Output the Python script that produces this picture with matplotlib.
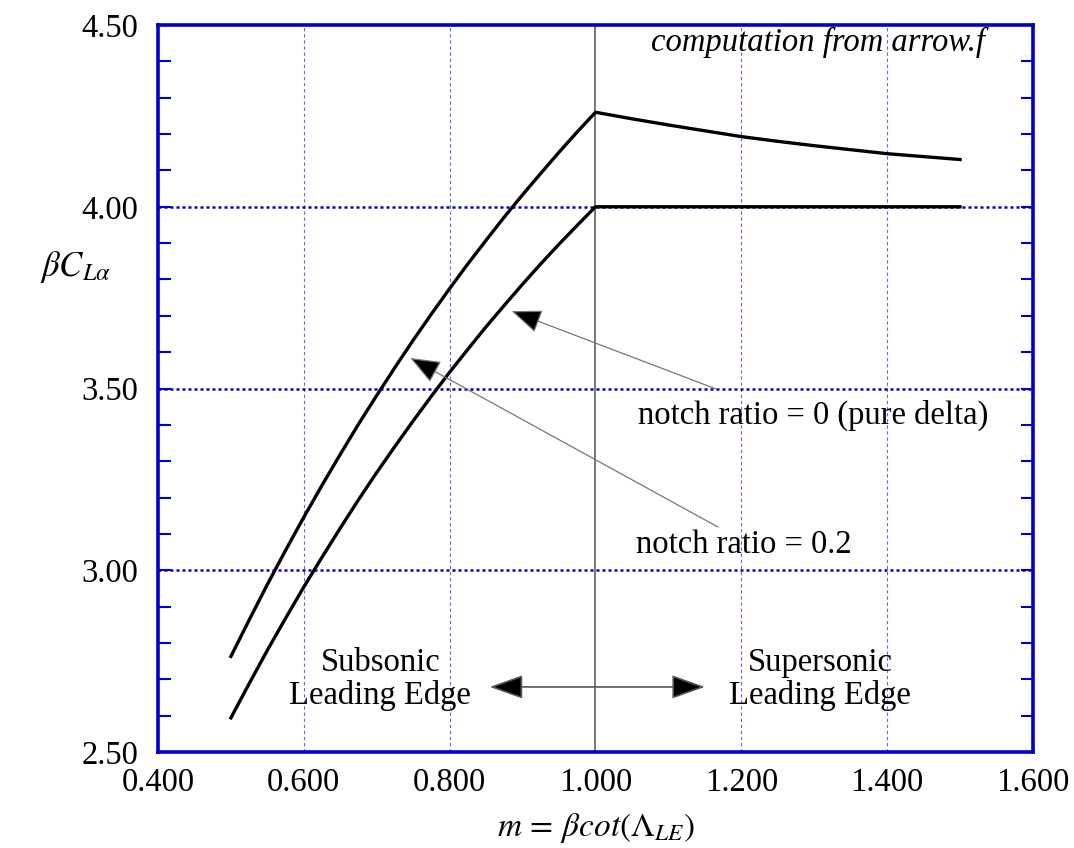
import matplotlib
matplotlib.use("Agg")
import matplotlib.pyplot as plt
from matplotlib.ticker import MultipleLocator, FixedLocator

plt.rcParams['font.family'] = ['Liberation Serif', 'DejaVu Serif']
plt.rcParams['mathtext.fontset'] = 'stix'

# Lift-curve slope vs. leading-edge parameter m (subsonic leading edge)
m_sub = [0.500, 0.525, 0.550, 0.575, 0.600, 0.625, 0.650, 0.675, 0.700, 0.725, 0.750,
         0.775, 0.800, 0.825, 0.850, 0.875, 0.900, 0.925, 0.950, 0.975, 1.000]
delta_sub = [2.594, 2.688, 2.780, 2.868, 2.954, 3.036, 3.116, 3.194, 3.269, 3.341, 3.411,
             3.479, 3.545, 3.608, 3.670, 3.729, 3.787, 3.843, 3.897, 3.949, 4.000]
notch_sub = [2.763, 2.863, 2.961, 3.055, 3.146, 3.234, 3.319, 3.402, 3.481, 3.558, 3.633,
             3.705, 3.775, 3.843, 3.908, 3.972, 4.033, 4.092, 4.150, 4.206, 4.260]

# supersonic leading edge
m_sup = [1.00, 1.05, 1.10, 1.15, 1.20, 1.25, 1.30, 1.35, 1.40, 1.45, 1.50]
delta_sup = [4.000, 4.000, 4.000, 4.000, 4.000, 4.000, 4.000, 4.000, 4.000, 4.000, 4.000]
notch_sup = [4.260, 4.242, 4.225, 4.209, 4.193, 4.180, 4.168, 4.157, 4.146, 4.138, 4.130]

x_ticks = [0.4, 0.6, 0.8, 1.0, 1.2, 1.4, 1.6]
x_labels = ["0.400", "0.600", "0.800", "1.000", "1.200", "1.400", "1.600"]
y_ticks = [2.5, 3.0, 3.5, 4.0, 4.5]
y_labels = ["2.50", "3.00", "3.50", "4.00", "4.50"]

frame_blue = '#0000CC'
FS = 23.5

fig = plt.figure(figsize=(10.74, 8.48), dpi=100)
ax = fig.add_axes([0.1471, 0.1132, 0.8147, 0.8573])
ax.set_xlim(0.4, 1.6)
ax.set_ylim(2.5, 4.5)

# grid lines
for xv in [0.6, 0.8, 1.2, 1.4]:
    ax.axvline(xv, color='#6666DD', lw=0.8, ls=(0, (3, 2.5)), zorder=1)
ax.axvline(1.0, color='#777777', lw=1.4, zorder=1)
for yv in [3.0, 3.5, 4.0]:
    ax.axhline(yv, color='#0000CC', lw=1.8, ls=(0, (1.2, 1.2)), zorder=1)

# curves
ax.plot(m_sub + m_sup[1:], notch_sub + notch_sup[1:], color='black', lw=2.4,
        solid_joinstyle='round', zorder=3)
ax.plot(m_sub + m_sup[1:], delta_sub + delta_sup[1:], color='black', lw=2.4,
        solid_joinstyle='round', zorder=3)

# axes frame and ticks
for sp in ax.spines.values():
    sp.set_color(frame_blue)
    sp.set_linewidth(2.6)
ax.xaxis.set_major_locator(FixedLocator(x_ticks))
ax.set_xticklabels(x_labels)
ax.yaxis.set_major_locator(FixedLocator(y_ticks))
ax.set_yticklabels(y_labels)
ax.yaxis.set_minor_locator(MultipleLocator(0.1))
ax.tick_params(axis='x', which='both', length=0, pad=11, labelsize=FS)
ax.tick_params(axis='y', which='both', direction='in', length=9, width=1.5,
               color=frame_blue, left=True, right=True, labelsize=FS, pad=14)

# axis labels
fig.text(0.070, 0.685, r'$\beta C_{L\alpha}$', fontsize=25, ha='center', va='center')
fig.text(0.555, 0.004, r'$m\,=\,\beta cot(\Lambda_{LE})$', fontsize=24,
         ha='center', va='bottom')

# annotations
ax.text(1.534, 4.452, 'computation from arrow.f', style='italic', fontsize=FS,
        ha='right', va='center')

arrow_props = dict(arrowstyle='-|>,head_length=1.9,head_width=0.75',
                   lw=0.9, shrinkA=0, shrinkB=0, ec='#777777', fc='black')
ax.annotate('', xy=(0.885, 3.713), xytext=(1.165, 3.499), arrowprops=arrow_props)
ax.annotate('', xy=(0.746, 3.584), xytext=(1.168, 3.119), arrowprops=arrow_props)
ax.text(1.059, 3.425, 'notch ratio = 0 (pure delta)', fontsize=FS, ha='left', va='center')
ax.text(1.055, 3.070, 'notch ratio = 0.2', fontsize=FS, ha='left', va='center')

ax.text(0.705, 2.70, 'Subsonic\nLeading Edge', fontsize=FS, ha='center', va='center',
        linespacing=1.05)
ax.text(1.308, 2.70, 'Supersonic\nLeading Edge', fontsize=FS, ha='center', va='center',
        linespacing=1.05)
ax.annotate('', xy=(0.855, 2.679), xytext=(1.150, 2.679),
            arrowprops=dict(arrowstyle='<|-|>,head_length=2.1,head_width=0.75',
                            fc='black', ec='#555555', lw=1.2,
                            shrinkA=0, shrinkB=0))

fig.savefig('out.png', dpi=100)
